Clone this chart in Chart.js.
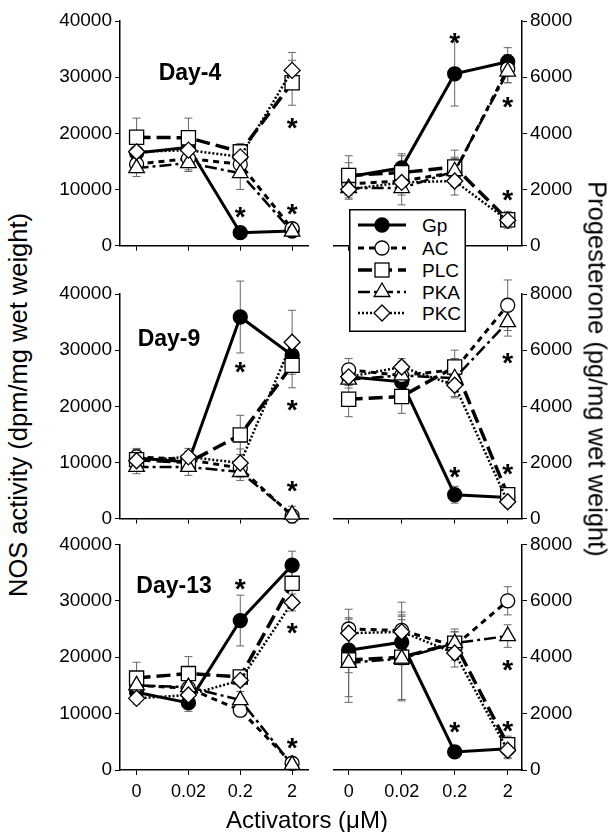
<!DOCTYPE html>
<html>
<head>
<meta charset="utf-8">
<script src="https://cdn.jsdelivr.net/npm/chart.js@4.4.0/dist/chart.umd.min.js"></script>
<style>
  body { margin: 0; background: #fff; font-family: "Liberation Sans", Arial, sans-serif; }
  #wrap { position: relative; width: 614px; height: 832px; overflow: hidden; background: #fff; }
  canvas { position: absolute; }
  .lbl { position: absolute; white-space: nowrap; color: #000; }
  .day { font-weight: bold; font-size: 23px; transform: translate(-50%, -50%); }
  .ytitle { font-size: 25.5px; transform: translate(-50%, -50%) rotate(-90deg); }
  .ytitle.r { transform: translate(-50%, -50%) rotate(90deg); }
</style>
</head>
<body>
<div id="wrap">
  <canvas id="n4" width="270" height="260" style="left:50px;top:0px"></canvas>
  <canvas id="p4" width="268" height="260" style="left:322px;top:0px"></canvas>
  <canvas id="n9" width="270" height="263" style="left:50px;top:270px"></canvas>
  <canvas id="p9" width="268" height="263" style="left:322px;top:270px"></canvas>
  <canvas id="n13" width="270" height="280" style="left:50px;top:530px"></canvas>
  <canvas id="p13" width="268" height="280" style="left:322px;top:530px"></canvas>

  <div class="lbl day" style="left:190px;top:72px">Day-4</div>
  <div class="lbl day" style="left:169px;top:338px">Day-9</div>
  <div class="lbl day" style="left:174px;top:585px">Day-13</div>

  <div class="lbl ytitle" style="left:18px;top:405px">NOS activity (dpm/mg wet weight)</div>
  <div class="lbl ytitle r" style="left:597px;top:369px">Progesterone (pg/mg wet weight)</div>
  <div class="lbl" style="left:307px;top:820px;font-size:24px;transform:translate(-50%,-50%)">Activators (μM)</div>

  <svg id="legend" class="lbl" style="left:349px;top:209px" width="117" height="123"></svg>
</div>

<script>
const doses = ['0', '0.02', '0.2', '2'];
const seriesNames = ['Gp', 'AC', 'PLC', 'PKA', 'PKC'];

// NOS activity, rows = Gp, AC, PLC, PKA, PKC
const nosDay4 = [
  [16500, 17500, 2300, 2600],
  [14500, 15500, 14500, 3000],
  [19300, 19200, 16700, 29000],
  [13800, 14700, 12900, 2500],
  [16700, 17000, 15800, 31200],
];
const nosDay4Err = [
  [2500, 3000, 1000, 800],
  [1500, 2000, 1500, 800],
  [3400, 3500, 1500, 4000],
  [1500, 1500, 2900, 800],
  [1500, 2000, 1500, 3200],
];
const nosDay9 = [
  [10800, 10100, 35900, 29100],
  [11000, 10500, 9000, 500],
  [10500, 10000, 14900, 27300],
  [9200, 9200, 8300, 700],
  [10300, 11000, 9900, 31400],
];
const nosDay9Err = [
  [1500, 1500, 6400, 2000],
  [1500, 1500, 1500, 800],
  [1000, 1500, 3500, 4000],
  [1200, 1500, 1500, 1500],
  [1000, 1500, 2500, 5700],
];
const nosDay13 = [
  [13800, 11900, 26500, 36300],
  [15000, 14500, 10600, 1200],
  [16300, 17100, 16500, 33100],
  [15000, 14700, 12400, 900],
  [12700, 13300, 15900, 29700],
];
const nosDay13Err = [
  [1500, 1500, 4500, 2500],
  [1500, 1500, 1000, 800],
  [2800, 3000, 1000, 3000],
  [1000, 1500, 1500, 800],
  [1000, 1500, 1000, 1500],
];

// Progesterone
const progDay4 = [
  [2450, 2770, 6120, 6550],
  [2200, 2300, 2600, 6300],
  [2500, 2600, 2800, 920],
  [2050, 2050, 2650, 6200],
  [2000, 2250, 2300, 900],
];
const progDay4Err = [
  [500, 500, 1150, 500],
  [400, 500, 500, 500],
  [700, 600, 600, 300],
  [400, 600, 500, 400],
  [300, 300, 500, 200],
];
const progDay9 = [
  [5050, 4870, 850, 750],
  [5300, 5100, 5300, 7600],
  [4250, 4350, 5400, 850],
  [4950, 5100, 5000, 7000],
  [5050, 5400, 4750, 600],
];
const progDay9Err = [
  [300, 300, 300, 200],
  [400, 400, 400, 900],
  [620, 600, 600, 200],
  [300, 500, 700, 500],
  [300, 300, 400, 200],
];
const progDay13 = [
  [4250, 4530, 640, 750],
  [5000, 4950, 4400, 6000],
  [3900, 4000, 4500, 900],
  [3800, 3950, 4500, 4750],
  [4850, 4900, 4150, 700],
];
const progDay13Err = [
  [800, 800, 200, 300],
  [700, 1000, 500, 500],
  [1500, 1500, 400, 300],
  [1200, 1500, 500, 400],
  [500, 700, 500, 300],
];

// significance marks: [dose index, value]
const nosDay4Stars = [[2, 6000], [3, 21800], [3, 6400]];
const progDay4Stars = [[2, 7400], [3, 5100], [3, 1800]];
const nosDay9Stars = [[2, 27000], [3, 20200], [3, 5700]];
const progDay9Stars = [[2, 1650], [3, 5700], [3, 1750]];
const nosDay13Stars = [[2, 33000], [3, 25100], [3, 4800]];
const progDay13Stars = [[2, 1500], [3, 3700], [3, 1550]];

const seriesStyle = [
  { dash: [], width: 3, point: 'circle', r: 7, fill: '#000' },
  { dash: [6, 5], width: 3, point: 'circle', r: 7, fill: '#fff' },
  { dash: [14, 6], width: 3.5, point: 'rect', r: 10, fill: '#fff' },
  { dash: [12, 4, 3, 4], width: 2.5, point: 'triangle', r: 9, fill: '#fff' },
  { dash: [2, 2], width: 2.5, point: 'rectRot', r: 8, fill: '#fff' },
];

const errorBars = {
  id: 'errorBars',
  beforeDatasetsDraw(chart) {
    const { ctx, scales: { x, y } } = chart;
    ctx.save();
    ctx.strokeStyle = '#666';
    ctx.lineWidth = 1;
    chart.data.datasets.forEach(ds => {
      ds.errors.forEach((e, i) => {
        const v = ds.data[i].y;
        const px = x.getPixelForValue(i);
        const t = y.getPixelForValue(v + e), b = y.getPixelForValue(v - e);
        ctx.beginPath();
        ctx.moveTo(px, t); ctx.lineTo(px, b);
        ctx.moveTo(px - 4, t); ctx.lineTo(px + 4, t);
        ctx.moveTo(px - 4, b); ctx.lineTo(px + 4, b);
        ctx.stroke();
      });
    });
    ctx.restore();
  },
};

const starMarks = {
  id: 'starMarks',
  afterDatasetsDraw(chart, args, opts) {
    const { ctx, scales: { x, y } } = chart;
    ctx.save();
    ctx.fillStyle = '#000';
    ctx.font = 'bold 28px "Liberation Sans", Arial';
    ctx.textAlign = 'center';
    ctx.textBaseline = 'middle';
    opts.list.forEach(([i, v]) => {
      ctx.fillText('*', x.getPixelForValue(i), y.getPixelForValue(v) + 6);
    });
    ctx.restore();
  },
};

function makePanel(id, left, row, values, errs, stars) {
  const yMax = left ? 40000 : 8000;
  const padTop = [21, 24, 14][row];
  const lastRow = row === 2;
  new Chart(document.getElementById(id), {
    type: 'line',
    data: {
      datasets: values.map((vals, k) => {
        const s = seriesStyle[k];
        return {
          label: seriesNames[k],
          data: vals.map((v, i) => ({ x: i, y: v })),
          errors: errs[k],
          order: seriesNames.length - k,
          borderColor: '#000',
          borderWidth: s.width,
          borderDash: s.dash,
          pointStyle: s.point,
          pointRadius: s.r,
          pointBackgroundColor: s.fill,
          pointBorderColor: '#000',
          pointBorderWidth: 1.3,
          tension: 0,
          clip: false,
        };
      }),
    },
    options: {
      responsive: false,
      animation: false,
      layout: { padding: { top: padTop, left: left ? 0 : 8, right: left ? 6 : 0, bottom: 0 } },
      plugins: { legend: { display: false }, tooltip: { enabled: false }, starMarks: { list: stars } },
      scales: {
        x: {
          type: 'linear',
          min: left ? -0.32 : -0.29,
          max: left ? 3.32 : 3.27,
          afterBuildTicks: s => { s.ticks = [0, 1, 2, 3].map(v => ({ value: v })); },
          afterFit: s => { s.height = lastRow ? 40 : 14; },
          ticks: {
            display: lastRow,
            color: '#000',
            padding: 6,
            font: { size: 18, family: '"Liberation Sans", Arial' },
            callback: v => doses[v],
          },
          grid: { drawOnChartArea: false, color: '#000', tickLength: 5 },
          border: { color: '#000', width: 1.5 },
        },
        y: {
          position: left ? 'left' : 'right',
          min: 0,
          max: yMax,
          afterFit: s => { s.width = left ? 70 : 68; },
          ticks: {
            stepSize: yMax / 4,
            color: '#000',
            padding: 3,
            font: { size: 19, family: '"Liberation Sans", Arial' },
            callback: v => String(v),
          },
          grid: { drawOnChartArea: false, color: '#000', tickLength: 5 },
          border: { color: '#000', width: 1.5 },
        },
      },
    },
    plugins: [errorBars, starMarks],
  });
}

makePanel('n4', true, 0, nosDay4, nosDay4Err, nosDay4Stars);
makePanel('p4', false, 0, progDay4, progDay4Err, progDay4Stars);
makePanel('n9', true, 1, nosDay9, nosDay9Err, nosDay9Stars);
makePanel('p9', false, 1, progDay9, progDay9Err, progDay9Stars);
makePanel('n13', true, 2, nosDay13, nosDay13Err, nosDay13Stars);
makePanel('p13', false, 2, progDay13, progDay13Err, progDay13Stars);

// legend box
(function buildLegend() {
  const svg = document.getElementById('legend');
  const NS = 'http://www.w3.org/2000/svg';
  const el = (tag, attrs) => {
    const e = document.createElementNS(NS, tag);
    Object.entries(attrs).forEach(([k, v]) => e.setAttribute(k, v));
    svg.appendChild(e);
    return e;
  };
  el('rect', { x: 0.75, y: 0.75, width: 115.5, height: 121.5, fill: '#fff', stroke: '#000', 'stroke-width': 1.5 });
  const rows = [16, 39, 61, 83, 104];
  seriesNames.forEach((name, k) => {
    const s = seriesStyle[k];
    const cy = rows[k];
    const cx = 33;
    el('line', { x1: 9, y1: cy, x2: 57, y2: cy, stroke: '#000', 'stroke-width': s.width, 'stroke-dasharray': s.dash.join(' ') });
    const mk = { fill: s.fill, stroke: '#000', 'stroke-width': 1.3 };
    if (s.point === 'circle') el('circle', { cx, cy, r: s.r, ...mk });
    else if (s.point === 'rect') el('rect', { x: cx - 7, y: cy - 7, width: 14, height: 14, ...mk });
    else if (s.point === 'triangle') el('polygon', { points: `${cx},${cy - 9} ${cx + 7.8},${cy + 4.5} ${cx - 7.8},${cy + 4.5}`, ...mk });
    else el('polygon', { points: `${cx},${cy - 8} ${cx + 8},${cy} ${cx},${cy + 8} ${cx - 8},${cy}`, ...mk });
    const t = el('text', { x: 73, y: cy + 7, 'font-size': 19, 'font-family': 'Liberation Sans, Arial', fill: '#000' });
    t.textContent = name;
  });
})();
</script>
</body>
</html>
